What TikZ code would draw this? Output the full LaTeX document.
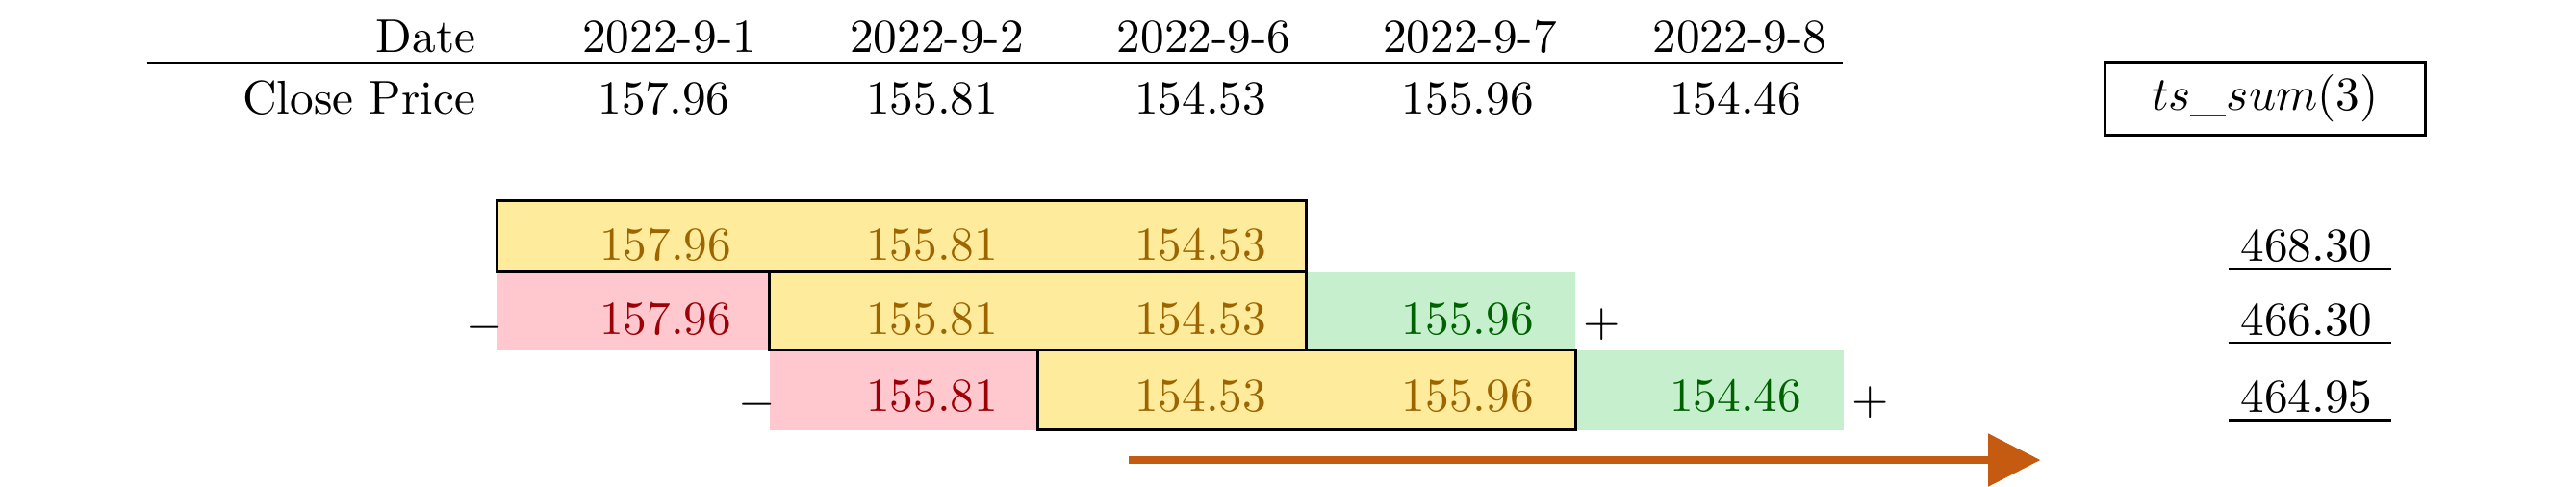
\documentclass[tikz,border=0pt]{standalone}
\usetikzlibrary{arrows.meta}
\definecolor{neuF}{HTML}{FFEB9C}
\definecolor{neuT}{HTML}{9C6500}
\definecolor{badF}{HTML}{FFC7CE}
\definecolor{badT}{HTML}{9C0006}
\definecolor{goodF}{HTML}{C6EFCE}
\definecolor{goodT}{HTML}{006100}
\definecolor{arrC}{HTML}{C55A11}
\begin{document}
\begin{tikzpicture}[x=0.3463pt,y=-0.3463pt,
  txt/.style={inner sep=0pt, anchor=base},
  neu/.style={txt, text=neuT},
  bad/.style={txt, text=badT},
  good/.style={txt, text=goodT},
  win/.style={fill=neuF, draw=black, line width=0.6pt},
  sgn/.style={inner sep=0pt},
  ul/.style={line width=0.5pt},
  rulel/.style={line width=0.7pt}]
\useasboundingbox (0,0) rectangle (1568,296);
% header table
\node[txt, anchor=base east] (hd) at (290,32) {Date};
\node[txt] (d1) at (407.5,32) {2022-9-1};
\node[txt] (d2) at (570.2,32) {2022-9-2};
\node[txt] (d3) at (732.8,32) {2022-9-6};
\node[txt] (d4) at (894.8,32) {2022-9-7};
\node[txt] (d5) at (1059,32) {2022-9-8};
\coordinate (rl) at (89.4,38.5);
\coordinate (rr) at (1121.4,38.5);
\draw[rulel] (rl) -- (rr);
\node[txt, anchor=base east] (hc) at (290,69.3) {Close Price};
\node[txt] (c1) at (404.1,69.3) {157.96};
\node[txt] (c2) at (567.3,69.3) {155.81};
\node[txt] (c3) at (730.8,69.3) {154.53};
\node[txt] (c4) at (893.4,69.3) {155.96};
\node[txt] (c5) at (1056.5,69.3) {154.46};
\node[draw, line width=0.6pt, minimum width=67.5pt, minimum height=15.4pt, inner sep=0pt] (ts) at (1378.7,59.8) {$ts\_sum(3)$};
% cells
\fill[badF] (302.7,165.6) rectangle (468.3,213.2);
\fill[goodF] (795,165.6) rectangle (959,213.2);
\fill[badF] (468.3,213.2) rectangle (631.5,261.7);
\fill[goodF] (959,213.2) rectangle (1122,261.7);
\draw[win] (302.7,122.4) rectangle (795,165.6);
\draw[win] (468.3,165.6) rectangle (795,213.2);
\draw[win] (631.5,213.2) rectangle (959,261.7);
% row 1
\node[neu] (r11) at (405.2,158.6) {157.96};
\node[neu] (r12) at (567.3,158.6) {155.81};
\node[neu] (r13) at (730.8,158.6) {154.53};
% row 2
\node[sgn] (m2) at (295,199.2) {$-$};
\node[bad] (r21) at (405.2,203.5) {157.96};
\node[neu] (r22) at (567.3,203.5) {155.81};
\node[neu] (r23) at (730.8,203.5) {154.53};
\node[good] (r24) at (893.4,203.5) {155.96};
\node[sgn] (p2) at (975,197.5) {$+$};
% row 3
\node[sgn] (m3) at (460.8,246) {$-$};
\node[bad] (r32) at (567.3,250.3) {155.81};
\node[neu] (r33) at (730.8,250.3) {154.53};
\node[neu] (r34) at (893.4,250.3) {155.96};
\node[good] (r35) at (1056.5,250.3) {154.46};
\node[sgn] (p3) at (1138.5,245) {$+$};
% sums
\node[txt] (s1) at (1404,159) {468.30};
\node[txt] (s2) at (1404,204) {466.30};
\node[txt] (s3) at (1404,251) {464.95};
\foreach \s in {s1,s2,s3}
  \draw[ul] ([xshift=-2.4pt,yshift=-1.6pt]\s.base west) -- ([xshift=3.8pt,yshift=-1.6pt]\s.base east);
% arrow
\coordinate (a0) at (687,280);
\coordinate (a1) at (1242,280);
\draw[line width=1.5pt, arrC, -{Triangle[length=11pt,width=10.8pt]}] (a0) -- (a1);
\end{tikzpicture}
\end{document}
